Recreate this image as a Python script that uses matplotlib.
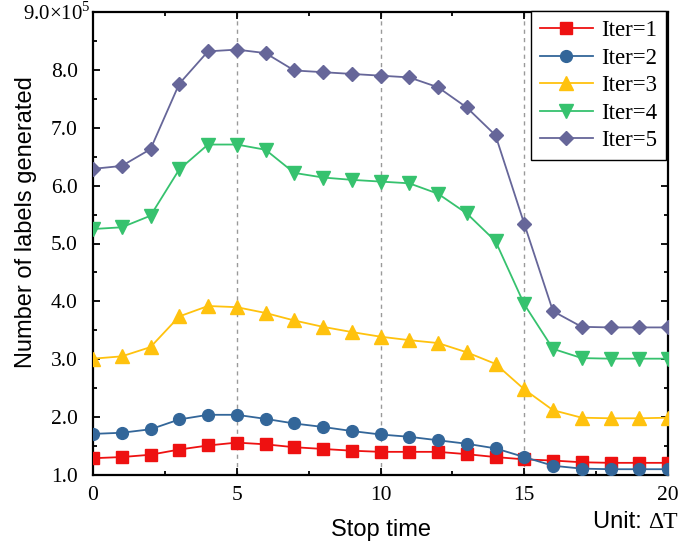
import matplotlib.pyplot as plt
from matplotlib.ticker import MultipleLocator

# stop time (unit: delta T)
stop_time = list(range(21))

# number of labels generated, in units of 1e5
iter1 = [1.29, 1.31, 1.35, 1.44, 1.51, 1.56, 1.53, 1.48, 1.45, 1.42, 1.40,
         1.40, 1.40, 1.36, 1.31, 1.27, 1.25, 1.22, 1.21, 1.21, 1.21]
iter2 = [1.71, 1.73, 1.79, 1.96, 2.04, 2.04, 1.97, 1.89, 1.83, 1.76, 1.70,
         1.66, 1.60, 1.54, 1.46, 1.31, 1.16, 1.11, 1.10, 1.10, 1.10]
iter3 = [3.01, 3.05, 3.21, 3.74, 3.92, 3.90, 3.80, 3.67, 3.56, 3.47, 3.39,
         3.33, 3.28, 3.12, 2.92, 2.48, 2.12, 1.99, 1.98, 1.98, 1.99]
iter4 = [5.25, 5.28, 5.48, 6.28, 6.71, 6.71, 6.62, 6.22, 6.14, 6.10, 6.07,
         6.04, 5.86, 5.52, 5.04, 3.95, 3.18, 3.02, 3.01, 3.01, 3.01]
iter5 = [6.29, 6.34, 6.63, 7.76, 8.32, 8.35, 8.29, 7.99, 7.96, 7.93, 7.90,
         7.87, 7.70, 7.35, 6.87, 5.34, 3.83, 3.56, 3.55, 3.55, 3.55]

series = [iter1, iter2, iter3, iter4, iter5]
labels = ["Iter=1", "Iter=2", "Iter=3", "Iter=4", "Iter=5"]
colors = ["#ee1111", "#336699", "#ffc20e", "#36c26e", "#666699"]
markers = ["s", "o", "^", "v", "D"]
msizes = [8, 8.5, 9.5, 9.5, 7.5]

yticks = [1, 2, 3, 4, 5, 6, 7, 8]
ytick_labels = ["1.0", "2.0", "3.0", "4.0", "5.0", "6.0", "7.0", "8.0"]
xticks = [0, 5, 10, 15, 20]
guides = [5, 10, 15]

serif = "Liberation Serif"
sans = "Liberation Sans"
plt.rcParams["mathtext.fontset"] = "custom"
plt.rcParams["mathtext.rm"] = serif

fig = plt.figure(figsize=(6.98, 5.47), dpi=100)
ax = fig.add_axes([93 / 698, 72 / 547, 575 / 698, 463 / 547])

for x in guides:
    ax.axvline(x, color="#9a9a9a", lw=1, ls=(0, (3, 3)), zorder=1)

for ys, lab, c, m, ms in zip(series, labels, colors, markers, msizes):
    ax.plot(stop_time, ys, color=c, marker=m, markersize=ms, lw=1.3,
            label=lab, zorder=3)

ax.set_xlim(0, 20)
ax.set_ylim(1, 9)
ax.set_xticks(xticks)
ax.set_yticks(yticks)
ax.set_yticklabels(ytick_labels)
ax.xaxis.set_minor_locator(MultipleLocator(2.5))
ax.yaxis.set_minor_locator(MultipleLocator(0.5))
ax.tick_params(which="both", direction="in", top=True, right=True, width=1.3)
ax.tick_params(which="major", length=5)
ax.tick_params(which="minor", length=3)
ax.tick_params(axis="y", pad=11)
ax.tick_params(axis="x", pad=8)
for t in ax.get_xticklabels() + ax.get_yticklabels():
    t.set_fontfamily(serif)
    t.set_fontsize(15.5)
for s in ax.spines.values():
    s.set_linewidth(1.6)

fig.text(91 / 698, 1 - 14 / 547, "9.0×10$^5$", family=serif, fontsize=15,
         ha="right", va="center")

fig.text(26 / 698, 1 - 222 / 547, "Number of labels generated", family=sans,
         fontsize=17, rotation=90, ha="center", va="center")
fig.text(381 / 698, 1 - 530 / 547, "Stop time", family=sans, fontsize=17,
         ha="center", va="center")
fig.text(648 / 698, 1 - 522 / 547, "Unit: ", family=sans, fontsize=17,
         ha="right", va="center")
fig.text(648 / 698, 1 - 522 / 547, "ΔT", family=serif, fontsize=17,
         ha="left", va="center")

leg = ax.legend(loc="upper right", bbox_to_anchor=(666 / 698, 1 - 11 / 547),
                bbox_transform=fig.transFigure, borderaxespad=0,
                prop={"family": serif, "size": 16.5}, handlelength=2.3,
                labelspacing=0.28, fancybox=False, framealpha=1,
                edgecolor="black", borderpad=0.4, handletextpad=0.35)
leg.get_frame().set_linewidth(1.0)
leg.set_zorder(5)

fig.savefig("out.png", dpi=100)
